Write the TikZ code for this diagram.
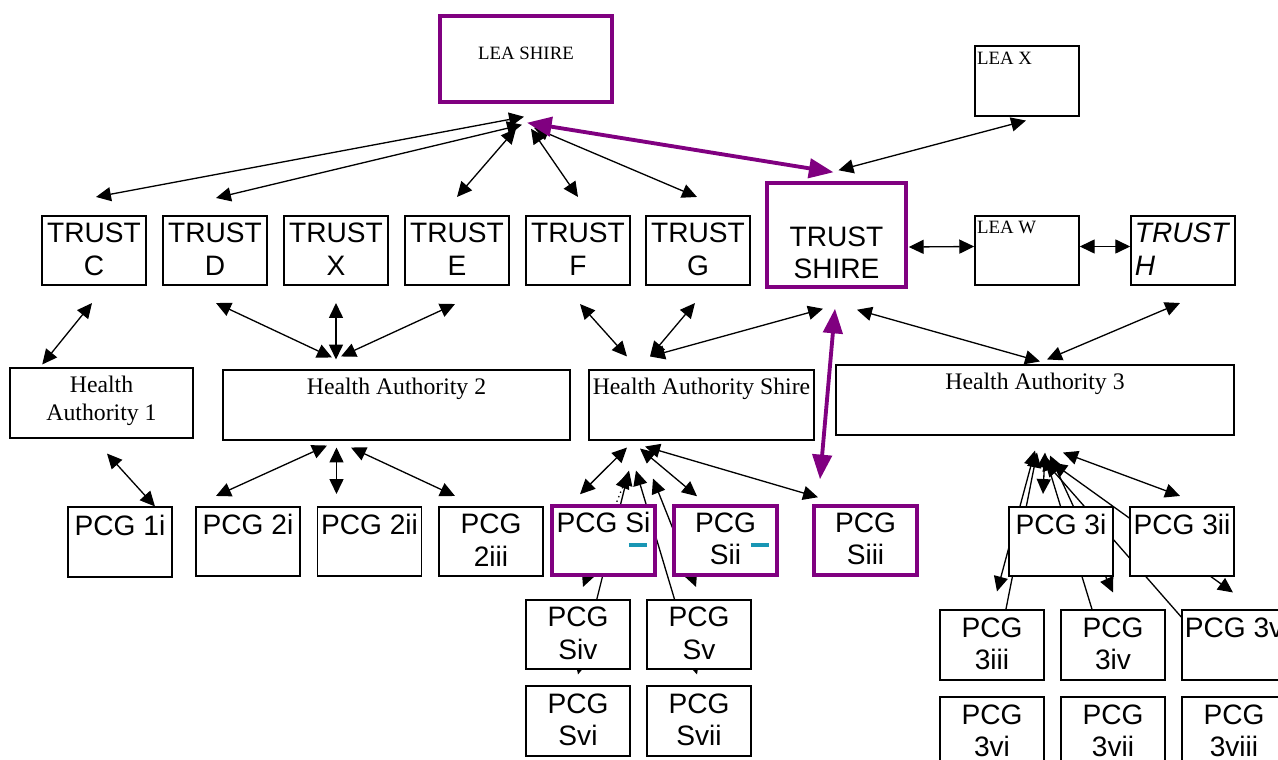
\documentclass[tikz,border=0pt]{standalone}
\usepackage{fontspec}
\usepackage{tikz}
\usetikzlibrary{arrows.meta,calc,backgrounds}
\newfontfamily\arl{Liberation Sans}
\newfontfamily\tms{Liberation Serif}
\definecolor{shirepurple}{RGB}{128,0,128}
\definecolor{pcgteal}{RGB}{25,150,180}

\begin{document}
\begin{tikzpicture}[
  x=0.02cm,y=-0.02cm,
  box/.style={draw,fill=white,line width=0.9pt,minimum width=2.08cm,minimum height=1.39cm,inner sep=0pt},
  shire/.style={box,draw=shirepurple,line width=2pt},
  atxt/.style={anchor=north,align=center,inner sep=4.5pt,font=\arl\fontsize{16}{18.5}\selectfont},
  htxt/.style={anchor=north,align=center,inner sep=4.5pt,font=\tms\fontsize{13.5}{16}\selectfont},
  lea/.style={font=\tms\fontsize{10.7}{13}\selectfont},
  atext/.style={label={[atxt]north:#1}},
  htext/.style={label={[htxt]north:#1}},
  >={Triangle[length=8.5pt,width=8pt]},
  arr/.style={<->,line width=0.75pt},
  parr/.style={>={Triangle[length=14pt,width=11pt]},<->,line width=2.2pt,draw=shirepurple,fill=shirepurple},
  tealbar/.style={draw=pcgteal,line width=2.2pt},
]
\useasboundingbox (0,0) rectangle (1278,760);
\clip (0,0) rectangle (1278,760);

% LEAs
\node[shire,minimum width=3.44cm,minimum height=1.72cm,label={[lea,anchor=north,yshift=-15pt]north:LEA SHIRE}] (leaS) at (526,59) {};
\node[box,label={[lea,anchor=north west,inner sep=1.5pt,yshift=-2pt]north west:LEA X}] (leaX) at (1027,81) {};
\node[box,label={[lea,anchor=north west,inner sep=1.5pt,yshift=-2pt]north west:LEA W}] (leaW) at (1027,250.5) {};

% Trusts
\node[box,atext={TRUST\\C}] (trC) at (94,250.5) {};
\node[box,atext={TRUST\\D}] (trD) at (215,250.5) {};
\node[box,atext={TRUST\\X}] (trX) at (336,250.5) {};
\node[box,atext={TRUST\\E}] (trE) at (457,250.5) {};
\node[box,atext={TRUST\\F}] (trF) at (578,250.5) {};
\node[box,atext={TRUST\\G}] (trG) at (698,250.5) {};
\node[shire,minimum width=2.78cm,minimum height=2.08cm,label={[atxt,yshift=-21pt]north:TRUST\\SHIRE}] (trS) at (836.5,235) {};
\node[box,label={[atxt,anchor=north west,align=left,inner sep=2.5pt,yshift=-2pt,font=\arl\itshape\fontsize{16}{18.5}\selectfont]north west:TRUST\\H}] (trH) at (1183,250.5) {};

% Health Authorities
\node[box,minimum width=3.66cm,htext={Health\\Authority 1}] (ha1) at (101.5,403) {};
\node[box,minimum width=6.94cm,htext={Health Authority 2}] (ha2) at (396.5,405) {};
\node[box,minimum width=4.5cm,htext={Health Authority Shire}] (haS) at (701.5,405) {};
\node[box,minimum width=7.96cm,htext={Health Authority 3}] (ha3) at (1035,400) {};

% PCGs
\node[box,atext={PCG 1i}] (p1i) at (120,542) {};
\node[box,atext={PCG 2i}] (p2i) at (248,541.5) {};
\node[box,atext={PCG 2ii}] (p2ii) at (369.5,541.5) {};
\node[box,atext={PCG\\2iii}] (p2iii) at (491,541.5) {};
\node[shire,minimum width=2.06cm,minimum height=1.38cm,atext={PCG Si}] (pSi) at (603.5,540.5) {};
\node[shire,minimum width=2.06cm,minimum height=1.38cm,atext={PCG\\Sii}] (pSii) at (725.5,540.5) {};
\node[shire,minimum width=2.06cm,minimum height=1.38cm,atext={PCG\\Siii}] (pSiii) at (865.5,540.5) {};
\node[box,atext={PCG 3i}] (p3i) at (1061,541.5) {};
\node[box,atext={PCG 3ii}] (p3ii) at (1182,541.5) {};
\node[box,atext={PCG\\Siv}] (pSiv) at (578,634.5) {};
\node[box,atext={PCG\\Sv}] (pSv) at (699,634.5) {};
\node[box,atext={PCG\\Svi}] (pSvi) at (578,721) {};
\node[box,atext={PCG\\Svii}] (pSvii) at (699,721) {};
\node[box,atext={PCG\\3iii}] (p3iii) at (992,645) {};
\node[box,atext={PCG\\3iv}] (p3iv) at (1113,645) {};
\node[box,atext={PCG 3v}] (p3v) at (1234,645) {};
\node[box,atext={PCG\\3vi}] (p3vi) at (992,732) {};
\node[box,atext={PCG\\3vii}] (p3vii) at (1113,732) {};
\node[box,atext={PCG\\3viii}] (p3viii) at (1234,732) {};

% teal marks
\foreach \n in {pSi,pSii}
  \draw[tealbar] ($(\n.south east)+(-28,-31.5)$) -- ++(18,0);

\begin{scope}[on background layer]
% LEA SHIRE / LEA X / LEA W
\draw[arr] ($(leaS.south)+(-2,13)$) -- ($(trC.north)+(2,-18)$);
\draw[arr] ($(leaS.south)+(-4,21)$) -- ($(trD.north)+(1,-17)$);
\draw[arr] ($(leaS.south)+(-10,25)$) -- ($(trE.north)+(0,-18)$);
\draw[arr] ($(leaS.south)+(5,25)$) -- ($(trF.north)+(0,-18)$);
\draw[arr] ($(leaS.south)+(8,24)$) -- ($(trG.north)+(-1,-18)$);
\draw[parr] ($(leaS.south)+(1,19)$) -- ($(trS.north)+(-3,-9)$);
\draw[arr] ($(leaX.south)+(-1,4)$) -- ($(trS.north)+(2,-11)$);
\draw[arr] ($(trS.east)+(1,12)$) -- ($(leaW.west)+(0,-4)$);
\draw[arr] ($(leaW.east)+(0,-4)$) -- ($(trH.west)+(0,-4)$);

% Trusts to Health Authorities
\draw[arr] ($(trC.south)+(-2,17)$) -- ($(ha1.north west)+(33,-3)$);
\draw[arr] ($(trD.south)+(1,17)$) -- ($(ha2.north)+(-64.5,-12)$);
\draw[arr] ($(trX.south)+(0,17)$) -- ($(ha2.north)+(-60.5,-10)$);
\draw[arr] ($(trE.south)+(-2,18)$) -- ($(ha2.north)+(-55.5,-13)$);
\draw[arr] ($(trF.south)+(2,18)$) -- ($(haS.north)+(-74.5,-13)$);
\draw[arr] ($(trG.south)+(-3,17)$) -- ($(haS.north)+(-51.5,-13)$);
\draw[arr] ($(trS.south)+(-13.5,20)$) -- ($(haS.north)+(-51.5,-13)$);
\draw[arr] ($(trS.south)+(20.5,21)$) -- ($(ha3.north)+(5,-3)$);
\draw[arr] ($(trH.south)+(-3,17)$) -- ($(ha3.north)+(12,-5)$);
\draw[parr] ($(trS.south)+(-1.5,20)$) -- ($(pSiii.north)+(-45.5,-25)$);

% Health Authorities to PCGs
\draw[arr] ($(ha1.south)+(5.5,15)$) -- ($(p1i.north)+(35,0)$);
\draw[arr] ($(ha2.south)+(-69.5,5)$) -- ($(p2i.north)+(-32,-10)$);
\draw[arr] ($(ha2.south)+(-60,7)$) -- ($(p2ii.north)+(-33,-12)$);
\draw[arr] ($(ha2.south)+(-45.5,7)$) -- ($(p2iii.north)+(-36,-10)$);

\draw[arr] ($(haS.south)+(-74.5,7)$) -- ($(pSi.north)+(-23.5,-10)$);
\draw[arr] ($(haS.south)+(-61.5,8)$) -- ($(pSii.north)+(-28.5,-8)$);
\draw[arr] ($(haS.south)+(-56.5,6)$) -- ($(pSiii.north)+(-47.5,-7)$);
\draw[arr,dotted] ($(haS.south)+(-73.5,33)$) -- ($(pSiv.north)+(5,-12)$);
\draw[arr] ($(haS.south)+(-48.5,38)$) -- ($(pSv.north)+(-3,-12)$);
\draw[arr] ($(haS.south)+(-72.5,30)$) -- ($(pSvi.north)+(0,-11)$);
\draw[arr] ($(haS.south)+(-65.5,30)$) -- ($(pSvii.north)+(-2,-11)$);

\draw[arr] ($(ha3.south)+(10,17)$) -- ($(p3i.north)+(-18,-12)$);
\draw[arr] ($(ha3.south)+(28,17)$) -- ($(p3ii.north)+(-2,-10)$);
\draw[arr] ($(ha3.south)+(0,15)$) -- ($(p3iii.north)+(5,-18)$);
\draw[arr] ($(ha3.south)+(15,20)$) -- ($(p3iv.north)+(0,-17)$);
\draw[arr] ($(ha3.south)+(17,27)$) -- ($(p3v.north)+(-1,-17)$);
\draw[arr] ($(ha3.south)+(2,17)$) -- ($(p3vi.north)+(1,-22)$);
\draw[arr] ($(ha3.south)+(10,20)$) -- ($(p3vii.north)+(-2,-25)$);
\draw[arr] ($(ha3.south)+(10,26)$) -- ($(p3viii.north)+(-5,-25)$);
\end{scope}

\end{tikzpicture}
\end{document}
